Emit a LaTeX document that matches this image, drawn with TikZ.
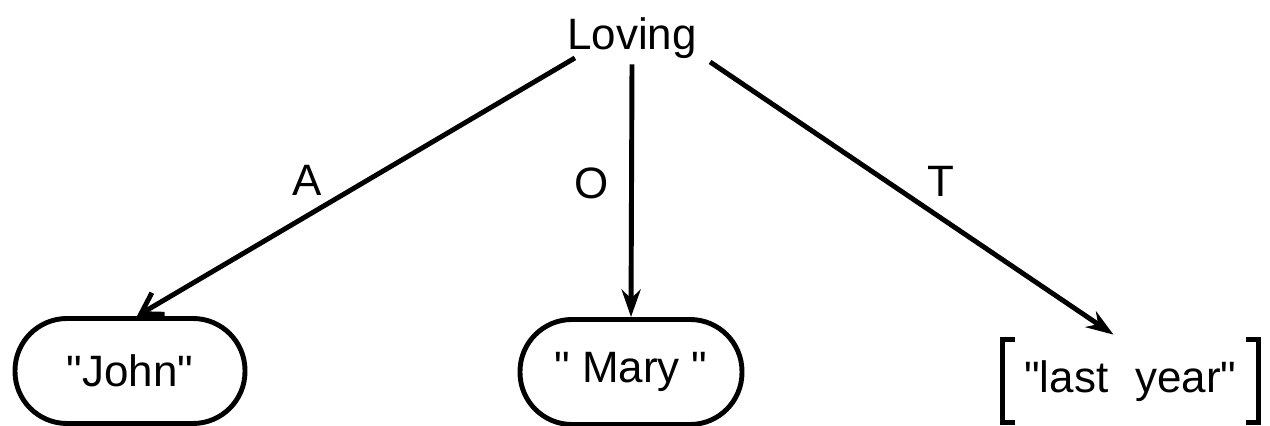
\documentclass[tikz,border=0pt]{standalone}
\usepackage{fontspec}
\setmainfont{Liberation Sans}
\usetikzlibrary{positioning,arrows.meta}

\begin{document}
\begin{tikzpicture}[
        every node/.style={font=\fontsize{25}{30}\selectfont},
        word/.style={inner sep=0.1cm},
        leaf/.style={draw, line width=2.8pt, rounded corners=1.04cm, minimum width=4.5cm, minimum height=2.1cm},
        stamp/.style={minimum width=5.1cm, minimum height=1.64cm, inner sep=0pt},
        bracket/.style={line width=3pt},
        rel/.style={inner sep=0.1cm},
        arrow/.style={-{Stealth[length=5.5mm, width=3.8mm]}, line width=2.8pt},
        openarrow/.style={-{Straight Barb[length=4mm, width=5mm]}, line width=2.8pt}
    ]
        \useasboundingbox (0,0) rectangle (25.4,8.52);

        % Top: the verb
        \node[word, anchor=base] (loving) at (12.64,7.52) {Loving};

        % Bottom row: the three fillers
        \node[leaf, minimum width=4.6cm] (john) at (2.6,1.1) {\textquotedbl John\textquotedbl};
        \node[leaf, minimum width=4.44cm] (mary) at (12.62,1.08) {\textquotedbl\ Mary \textquotedbl};
        \node[stamp] (year) at (22.61,0.9) {\textquotedbl last\hspace{0.3cm} year\textquotedbl};

        % Square brackets round the time filler
        \draw[bracket] ([xshift=0.25cm]year.north west) -- (year.north west) -- (year.south west) -- ++(0.25,0);
        \draw[bracket] ([xshift=-0.25cm]year.north east) -- (year.north east) -- (year.south east) -- ++(-0.25,0);

        % Case arrows
        \draw[openarrow] ([xshift=0.26cm,yshift=0.13cm]loving.south west) -- node[rel, pos=0.56, above left] {A} ([xshift=0.14cm]john.north);
        \draw[arrow] (loving.south) -- node[rel, pos=0.47, left=0.3cm] {O} (mary.north);
        \draw[arrow] ([xshift=0.16cm,yshift=0.05cm]loving.south east) -- node[rel, pos=0.52, above right=0cm] {T} ([xshift=-0.34cm,yshift=0.1cm]year.north);

    \end{tikzpicture}
\end{document}
